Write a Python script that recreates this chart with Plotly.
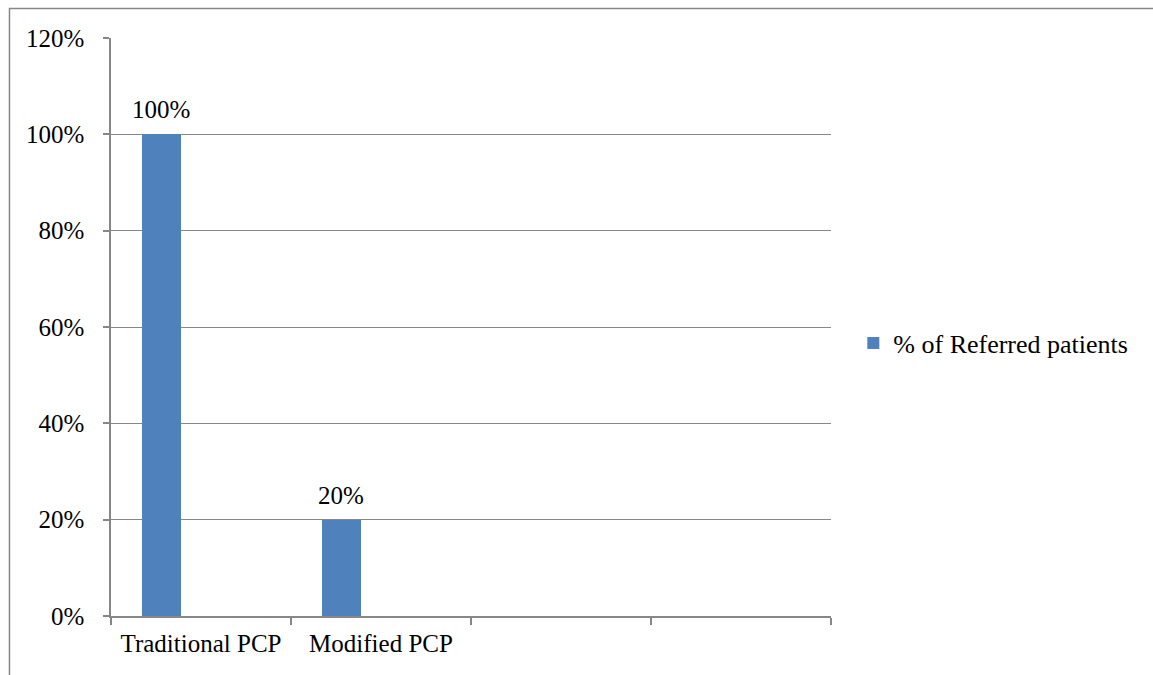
import plotly.graph_objects as go

# Referral share per care model (two empty category slots follow)
categories = ["Traditional PCP", "Modified PCP", " ", "  "]
referred_share = [1.00, 0.20, None, None]
series_name = "% of Referred patients"
y_ticks = [0, 0.2, 0.4, 0.6, 0.8, 1.0, 1.2]

FONT = "Liberation Serif, Times New Roman, serif"
GRID = "#878787"
BAR = "#4F81BD"
SIZE = 25

BAR_OFFSET = -0.328
BAR_WIDTH = 0.217

fig = go.Figure()
fig.add_trace(go.Bar(
    x=categories,
    y=referred_share,
    name=series_name,
    marker=dict(color=BAR, line=dict(width=0)),
    offset=BAR_OFFSET,
    width=BAR_WIDTH,
    showlegend=True,
))

# Value labels above each bar
for i, v in enumerate(referred_share):
    if v is None:
        continue
    fig.add_annotation(
        x=i + BAR_OFFSET + BAR_WIDTH / 2, y=v,
        xref="x", yref="y",
        text=f"{v:.0%}",
        showarrow=False,
        yanchor="bottom",
        yshift=9,
        font=dict(family=FONT, size=SIZE, color="#000000"),
    )

fig.update_layout(
    width=1153,
    height=675,
    margin=dict(l=111, r=322, t=38, b=59),
    paper_bgcolor="white",
    plot_bgcolor="white",
    font=dict(family=FONT, size=SIZE, color="#000000"),
    showlegend=True,
    legend=dict(
        x=1.031, y=0.472, xanchor="left", yanchor="middle",
        font=dict(family=FONT, size=26),
        itemwidth=30,
        bgcolor="rgba(0,0,0,0)",
    ),
    xaxis=dict(
        type="category",
        categoryorder="array",
        categoryarray=categories,
        range=[-0.5, 3.5],
        showgrid=False,
        showline=True,
        linecolor=GRID,
        linewidth=1.5,
        ticks="outside",
        tickson="boundaries",
        ticklen=7,
        tickcolor=GRID,
        tickwidth=1.5,
        ticklabelstandoff=4,
        tickfont=dict(family=FONT, size=SIZE),
        zeroline=False,
    ),
    yaxis=dict(
        range=[0, 1.2],
        tickvals=y_ticks,
        tickformat=".0%",
        showgrid=True,
        gridcolor=GRID,
        gridwidth=1,
        showline=True,
        linecolor=GRID,
        linewidth=1.5,
        ticks="outside",
        ticklen=6,
        tickcolor=GRID,
        tickwidth=1.5,
        ticklabelstandoff=14,
        tickfont=dict(family=FONT, size=SIZE),
        zeroline=False,
    ),
    bargap=0,
)

# Chart-area frame: left and top edges
fig.add_shape(type="path", xref="paper", yref="paper",
              path="M -0.141,-0.2 L -0.141,1.0512 L 1.6,1.0512",
              line=dict(color=GRID, width=1.5))

fig.write_html("out.html")
